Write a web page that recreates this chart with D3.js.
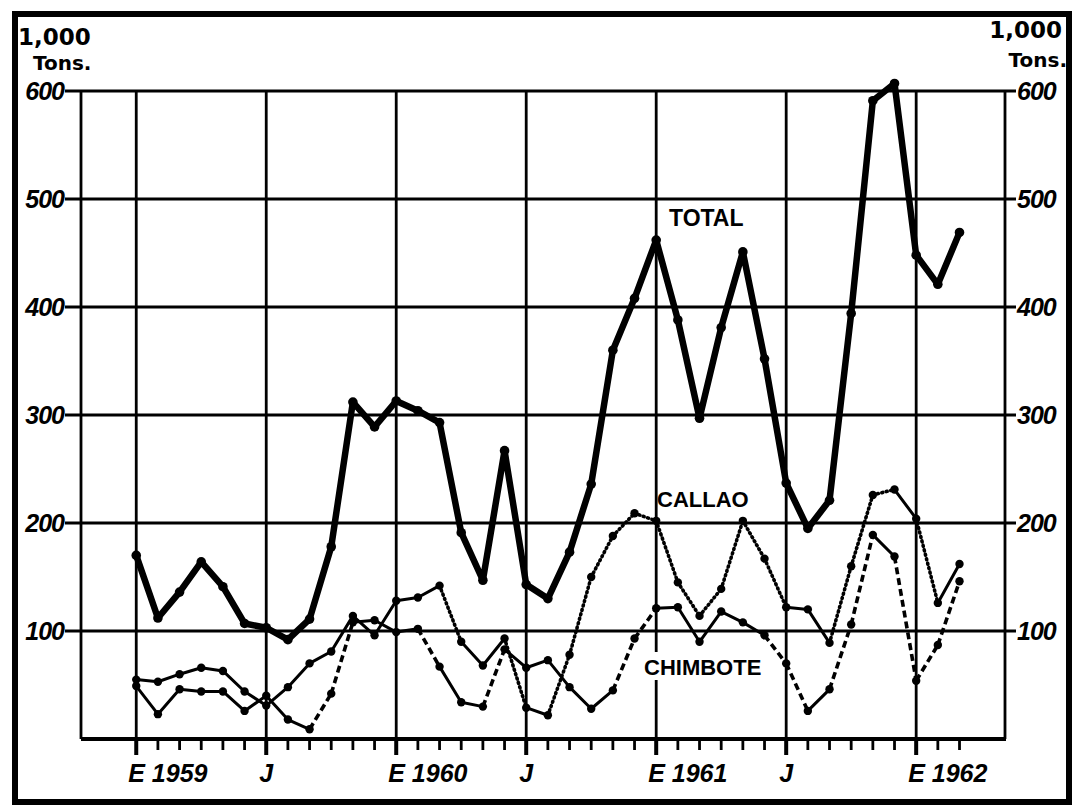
<!DOCTYPE html>
<html><head><meta charset="utf-8">
<script src="https://cdn.jsdelivr.net/npm/d3@7"></script>
<style>body{margin:0;background:#fff} svg{display:block}</style>
</head><body>
<svg id="c" width="1074" height="805"></svg>
<script>
// ---- DATA (1,000 tons, monthly Jan 1959 – Mar 1962) ----
const months = ["1959-01","1959-02","1959-03","1959-04","1959-05","1959-06","1959-07","1959-08","1959-09","1959-10","1959-11","1959-12",
                "1960-01","1960-02","1960-03","1960-04","1960-05","1960-06","1960-07","1960-08","1960-09","1960-10","1960-11","1960-12",
                "1961-01","1961-02","1961-03","1961-04","1961-05","1961-06","1961-07","1961-08","1961-09","1961-10","1961-11","1961-12",
                "1962-01","1962-02","1962-03"];
const total    = [170,112,136,164,141,107,103,92,111,178,312,289, 313,304,293,191,147,267,143,130,173,236,360,408, 462,388,297,381,451,352,237,195,221,394,591,607, 448,421,469];
const callao   = [55,53,60,66,63,44,31,48,70,81,114,96, 128,131,142,90,68,93,29,22,78,150,188,209, 202,145,114,139,202,167,122,120,89,160,226,231, 204,126,162];
const chimbote = [49,23,46,44,44,26,40,18,9,42,108,110, 99,102,67,34,30,83,66,73,48,28,45,93, 121,122,90,118,108,96,70,26,46,106,189,169, 54,87,146];
// segment pattern per series (s = solid, d = broken)
const callaoSeg   = "ssssssssssssssdssdsdddddddddddssdddsds";
const chimboteSeg = "ssssssssddsssdssdsssssddsssssddsddsddd";
const yTicks = [100,200,300,400,500,600];
const majorMonths = [0,6,12,18,24,30,36];
const majorLabels = ["E 1959","J","E 1960","J","E 1961","J","E 1962"];
const seriesLabels = ["TOTAL","CALLAO","CHIMBOTE"];
const unitLines = ["1,000","Tons."];

const svg = d3.select("#c");
const x = d3.scaleLinear().domain([-2.55, 40.1]).range([81, 1005]);
const y = d3.scaleLinear().domain([0, 600]).range([739, 91]);
const X0 = x.range()[0], X1 = x.range()[1];

// frame
svg.append("rect").attr("x",15).attr("y",14).attr("width",1054).attr("height",788)
  .attr("fill","none").attr("stroke","#000").attr("stroke-width",6);

// horizontal grid
svg.append("g").selectAll("line").data(yTicks).join("line")
  .attr("x1",X0-16).attr("x2",X1+11).attr("y1",d=>y(d)).attr("y2",d=>y(d))
  .attr("stroke","#000").attr("stroke-width",2.8);
// vertical grid
const vx = [x.domain()[0], ...majorMonths, x.domain()[1]];
svg.append("g").selectAll("line").data(vx).join("line")
  .attr("x1",d=>x(d)).attr("x2",d=>x(d)).attr("y1",y(600)).attr("y2",y(0))
  .attr("stroke","#000").attr("stroke-width",2.8);
// bottom axis
svg.append("line").attr("x1",X0).attr("x2",X1+1).attr("y1",y(0)).attr("y2",y(0))
  .attr("stroke","#000").attr("stroke-width",3.8);
// month ticks
svg.append("g").selectAll("line").data(months).join("line")
  .attr("x1",(d,i)=>x(i)).attr("x2",(d,i)=>x(i)).attr("y1",y(0))
  .attr("y2",(d,i)=>y(0)+(majorMonths.includes(i)?16:11))
  .attr("stroke","#000").attr("stroke-width",(d,i)=>majorMonths.includes(i)?4:2.8);

// y labels
const numFont = "'Liberation Sans', Arial, sans-serif";
svg.append("g").selectAll("text").data(yTicks).join("text")
  .attr("x",X0-17).attr("y",d=>y(d)).attr("dy","0.36em").attr("text-anchor","end")
  .attr("font-family",numFont).attr("font-weight","bold").attr("font-style","italic")
  .attr("font-size",25).attr("letter-spacing",-1).text(d=>d);
svg.append("g").selectAll("text").data(yTicks).join("text")
  .attr("x",X1+12).attr("y",d=>y(d)).attr("dy","0.36em").attr("text-anchor","start")
  .attr("font-family",numFont).attr("font-weight","bold").attr("font-style","italic")
  .attr("font-size",25).attr("letter-spacing",-1).text(d=>d);

// x labels
svg.append("g").selectAll("text").data(majorMonths).join("text")
  .attr("x",(d,i)=>x(d)-(majorLabels[i].length>1?8:0))
  .attr("y",782).attr("text-anchor",(d,i)=>majorLabels[i].length>1?"start":"middle")
  .attr("font-family",numFont).attr("font-weight","bold").attr("font-style","italic")
  .attr("font-size",25).text((d,i)=>majorLabels[i]);

// unit labels
const uf = "'DejaVu Sans', sans-serif";
svg.append("text").attr("x",18).attr("y",45).attr("font-family",uf).attr("font-weight","bold").attr("font-size",23).text(unitLines[0]);
svg.append("text").attr("x",33).attr("y",70).attr("font-family",uf).attr("font-weight","bold").attr("font-size",20).text(unitLines[1]);
svg.append("text").attr("x",1062).attr("y",38).attr("text-anchor","end").attr("font-family",uf).attr("font-weight","bold").attr("font-size",23).text(unitLines[0]);
svg.append("text").attr("x",1067).attr("y",67).attr("text-anchor","end").attr("font-family",uf).attr("font-weight","bold").attr("font-size",20).text(unitLines[1]);

// thin series drawn segment by segment
function thinSeries(vals, seg, dash){
  const g = svg.append("g");
  for(let i=0;i<vals.length-1;i++){
    const broken = seg[i]==="d";
    g.append("line")
      .attr("x1",x(i)).attr("y1",y(vals[i])).attr("x2",x(i+1)).attr("y2",y(vals[i+1]))
      .attr("stroke","#000").attr("stroke-width",broken?3.6:3)
      .attr("stroke-linecap",broken?(dash==="dot"?"round":"butt"):"round")
      .attr("stroke-dasharray",broken?(dash==="dot"?"1,3.6":"7,4"):null);
  }
  g.selectAll("circle").data(vals).join("circle")
    .attr("cx",(d,i)=>x(i)).attr("cy",d=>y(d)).attr("r",4.2).attr("fill","#000");
}
thinSeries(chimbote, chimboteSeg, "dash");
thinSeries(callao, callaoSeg, "dot");

// total
svg.append("path").datum(total)
  .attr("d", d3.line().x((d,i)=>x(i)).y(d=>y(d)))
  .attr("fill","none").attr("stroke","#000").attr("stroke-width",6.5).attr("stroke-linejoin","round");
svg.append("g").selectAll("circle").data(total).join("circle")
  .attr("cx",(d,i)=>x(i)).attr("cy",d=>y(d)).attr("r",4.8).attr("fill","#000");

// series labels
const lf = "'Liberation Sans', Arial, sans-serif";
svg.append("rect").attr("x",640).attr("y",652).attr("width",126).attr("height",28).attr("fill","#fff");
svg.append("text").attr("x",669).attr("y",226).attr("font-family",lf).attr("font-weight","bold").attr("font-size",23).text(seriesLabels[0]);
svg.append("text").attr("x",657).attr("y",507).attr("font-family",lf).attr("font-weight","bold").attr("font-size",22).text(seriesLabels[1]);
svg.append("text").attr("x",644).attr("y",675).attr("font-family",lf).attr("font-weight","bold").attr("font-size",22).text(seriesLabels[2]);
</script>
</body></html>
